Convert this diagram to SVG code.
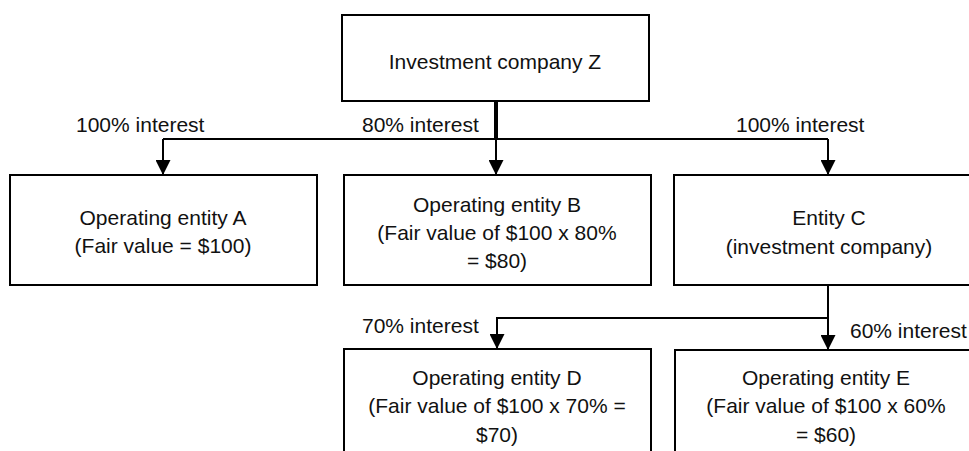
<svg xmlns="http://www.w3.org/2000/svg" width="969" height="451" viewBox="0 0 969 451">
<style>
.box{fill:#fff;stroke:#000;stroke-width:2}
.t{font-family:"Liberation Sans",Arial,sans-serif;font-size:21px;fill:#111;text-anchor:middle}
.l{font-family:"Liberation Sans",Arial,sans-serif;font-size:21px;fill:#111}
.c{fill:none;stroke:#000;stroke-width:2}
</style>
<defs>
<marker id="ah" markerWidth="15" markerHeight="15" viewBox="0 0 15 15" refX="15" refY="7.5" orient="auto" markerUnits="userSpaceOnUse">
<path d="M0,0 L15,7.5 L0,15 Z" fill="#000"/>
</marker>
</defs>
<rect width="969" height="451" fill="#fff"/>
<g id="connectors">
<line x1="496" y1="101" x2="496" y2="139" stroke="#000" stroke-width="4"/>
<path class="c" d="M163,139 H828"/>
<path class="c" d="M163,139 V175" marker-end="url(#ah)"/>
<path class="c" d="M496,139 V175" marker-end="url(#ah)"/>
<path class="c" d="M828,139 V175" marker-end="url(#ah)"/>
<path class="c" d="M828,285 V350" marker-end="url(#ah)"/>
<path class="c" d="M828,318 H497 V349" marker-end="url(#ah)"/>
</g>
<g id="labels">
<text class="l" x="76" y="132">100% interest</text>
<text class="l" x="362" y="132">80% interest</text>
<text class="l" x="736" y="132">100% interest</text>
<text class="l" x="362" y="333">70% interest</text>
<text class="l" x="850" y="338">60% interest</text>
</g>
<g id="nodeZ">
<rect class="box" x="342" y="15" width="307" height="86"/>
<text class="t" x="495" y="69">Investment company Z</text>
</g>
<g id="nodeA">
<rect class="box" x="10" y="175" width="307" height="110"/>
<text class="t" x="163" y="225">Operating entity A</text>
<text class="t" x="163" y="253">(Fair value = $100)</text>
</g>
<g id="nodeB">
<rect class="box" x="344" y="175" width="307" height="110"/>
<text class="t" x="497" y="212">Operating entity B</text>
<text class="t" x="497" y="240">(Fair value of $100 x 80%</text>
<text class="t" x="497" y="268">= $80)</text>
</g>
<g id="nodeC">
<rect class="box" x="674" y="175" width="310" height="110"/>
<text class="t" x="829" y="225">Entity C</text>
<text class="t" x="829" y="254">(investment company)</text>
</g>
<g id="nodeD">
<rect class="box" x="344" y="349" width="307" height="110"/>
<text class="t" x="497" y="385">Operating entity D</text>
<text class="t" x="497" y="413">(Fair value of $100 x 70% =</text>
<text class="t" x="497" y="442">$70)</text>
</g>
<g id="nodeE">
<rect class="box" x="675" y="350" width="306" height="110"/>
<text class="t" x="826" y="385">Operating entity E</text>
<text class="t" x="826" y="413">(Fair value of $100 x 60%</text>
<text class="t" x="826" y="442">= $60)</text>
</g>
</svg>
